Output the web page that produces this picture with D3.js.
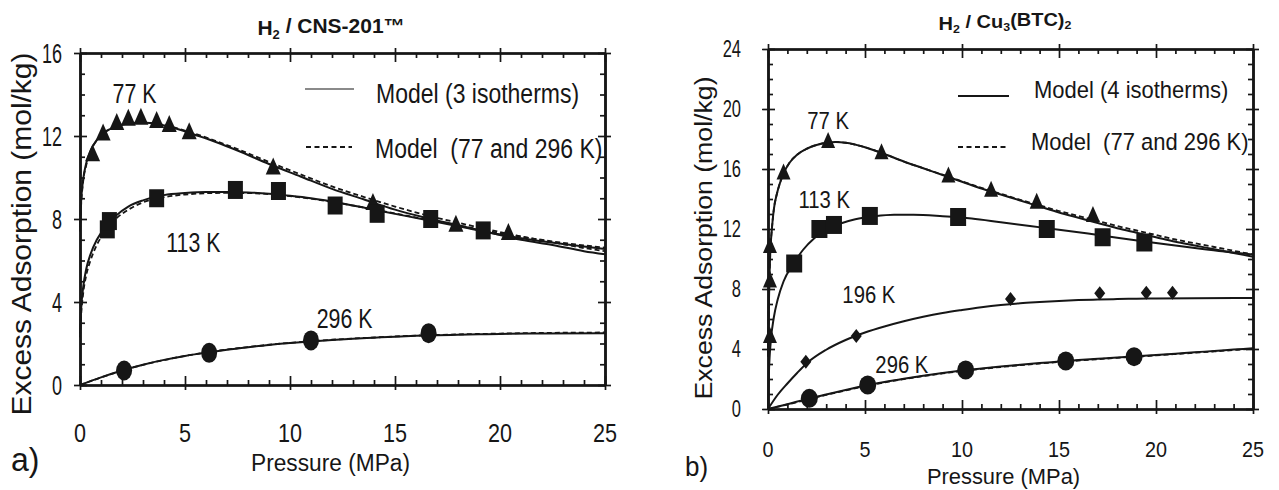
<!DOCTYPE html>
<html><head><meta charset="utf-8">
<script src="https://cdn.jsdelivr.net/npm/d3@7"></script>
<style>body{margin:0;background:#fff}svg{display:block}</style>
</head><body>
<svg id="c" width="1279" height="490"></svg>
<script>
// ---------- tick labels ----------
const xTicks = [0, 5, 10, 15, 20, 25];
const xMinor = [1,2,3,4,6,7,8,9,11,12,13,14,16,17,18,19,21,22,23,24];
const yTicksA = [0, 4, 8, 12, 16];
const yMinorA = [1,2,3,5,6,7,9,10,11,13,14,15];
const yTicksB = [0, 4, 8, 12, 16, 20, 24];
const yMinorB = [1,2,3,5,6,7,9,10,11,13,14,15,17,18,19,21,22,23];

// ---------- panel a) H2 / CNS-201 : measured points ----------
const a77P  = [0.6, 1.1, 1.75, 2.3, 2.9, 3.65, 4.25, 5.2, 9.2, 13.95, 17.9, 20.4];
const a77Q  = [11.1, 12.1, 12.6, 12.8, 12.85, 12.7, 12.5, 12.15, 10.45, 8.75, 7.7, 7.3];
const a113P = [1.3, 1.4, 3.65, 7.4, 9.45, 12.15, 14.15, 16.7, 19.2];
const a113Q = [7.5, 7.9, 9.0, 9.4, 9.35, 8.65, 8.25, 8.0, 7.45];
const a296P = [2.1, 6.15, 11.0, 16.6];
const a296Q = [0.7, 1.55, 2.15, 2.5];
// model curves panel a
const aFit77P  = [0,0.05,0.15,0.3,0.5,0.8,1.2,1.7,2.3,3,3.8,4.6,5.5,6.5,7.5,9,10.5,12,13.5,15,16.5,18,19.5,21,22.5,24,25];
const aFit77Q  = [7.6,8.8,9.9,10.7,11.3,11.8,12.2,12.45,12.6,12.65,12.55,12.35,12.05,11.7,11.3,10.65,10.05,9.45,8.95,8.45,8.05,7.7,7.35,7.0,6.75,6.45,6.3];
const aDash77Q = [7.4,8.6,9.8,10.6,11.25,11.8,12.2,12.45,12.6,12.65,12.57,12.38,12.1,11.75,11.37,10.75,10.15,9.57,9.07,8.6,8.18,7.82,7.48,7.16,6.88,6.6,6.45];
const aFit113P  = [0,0.05,0.15,0.3,0.5,0.8,1.2,1.7,2.3,3,4,5,6,7,8,9,10,11,12.5,14,15.5,17,18.5,20,21.5,23,25];
const aFit113Q  = [2.5,3.6,4.7,5.6,6.3,7.0,7.6,8.15,8.6,8.9,9.15,9.25,9.3,9.3,9.28,9.22,9.12,9.0,8.75,8.45,8.15,7.85,7.55,7.25,7.0,6.8,6.55];
const aDash113Q = [2.3,3.3,4.4,5.3,6.0,6.75,7.4,8.0,8.45,8.8,9.05,9.18,9.24,9.26,9.25,9.2,9.1,8.98,8.74,8.46,8.17,7.88,7.6,7.32,7.07,6.85,6.62];
const aFit296P  = [0,1,2,3,4,5,6,7,8,9,10,11,12,13,14,15,16,17,18,19,20,22,25];
const aFit296Q  = [0,0.37,0.7,0.98,1.21,1.4,1.56,1.7,1.82,1.93,2.02,2.1,2.17,2.23,2.28,2.33,2.37,2.4,2.42,2.44,2.46,2.48,2.5];
const aDash296Q = [0,0.36,0.69,0.97,1.2,1.4,1.57,1.71,1.83,1.94,2.03,2.11,2.18,2.24,2.29,2.34,2.38,2.41,2.44,2.46,2.48,2.51,2.53];

// ---------- panel b) H2 / Cu3(BTC)2 : measured points ----------
const b77P  = [0.1, 0.1, 0.1, 0.8, 3.1, 5.85, 9.3, 11.5, 13.85, 16.75];
const b77Q  = [4.8, 8.5, 10.8, 15.7, 17.8, 17.05, 15.5, 14.55, 13.75, 12.87];
const b113P = [1.35, 2.65, 3.4, 5.25, 9.8, 14.37, 17.25, 19.4];
const b113Q = [9.7, 12.0, 12.27, 12.87, 12.8, 12.0, 11.45, 11.1];
const b196P = [1.95, 4.55, 12.5, 17.1, 19.5, 20.85];
const b196Q = [3.15, 4.87, 7.33, 7.71, 7.75, 7.75];
const b296P = [2.13, 5.14, 10.19, 15.35, 18.87];
const b296Q = [0.71, 1.6, 2.6, 3.2, 3.49];
// model curves panel b
const bFit77P  = [0,0.03,0.07,0.12,0.2,0.3,0.45,0.6,0.8,1.1,1.5,2,2.5,3,3.5,4,5,6,7,8,9,10,11,12,13,14,15,16,17,18,19,20,21,22,23,24,25];
const bFit77Q  = [3.5,6,8.5,10.5,12.0,13.3,14.3,15.0,15.7,16.4,16.95,17.35,17.6,17.75,17.8,17.75,17.45,17.0,16.5,16.05,15.6,15.15,14.7,14.3,13.9,13.5,13.1,12.75,12.4,12.05,11.75,11.45,11.15,10.9,10.65,10.4,10.15];
const bDash77Q = [3.5,6,8.5,10.5,12.0,13.3,14.3,15.0,15.7,16.4,16.95,17.35,17.6,17.75,17.8,17.75,17.45,17.0,16.5,16.05,15.62,15.18,14.75,14.35,13.95,13.58,13.2,12.87,12.53,12.2,11.9,11.6,11.3,11.05,10.8,10.55,10.3];
const bFit113P = [0,0.05,0.15,0.3,0.5,0.8,1.3,1.8,2.4,3,3.7,4.5,5.5,6.5,7.5,9,10.5,12,13.5,15,16.5,18,19.5,21,22.5,25];
const bFit113Q = [0,2.5,4.6,6.1,7.3,8.5,9.65,10.6,11.4,11.95,12.35,12.65,12.85,12.95,12.95,12.85,12.7,12.45,12.2,11.95,11.7,11.42,11.15,10.9,10.65,10.3];
const bFit196P = [0,0.5,1,1.5,2,3,4,5,6,7,8,9,10,11,12,13,14,15,16,17,18,19,20,22,25];
const bFit196Q = [0,0.95,1.7,2.4,3.05,3.95,4.6,5.1,5.5,5.85,6.15,6.4,6.6,6.78,6.93,7.05,7.13,7.2,7.26,7.3,7.33,7.35,7.37,7.39,7.4];
const bFit296P  = [0,1,2,3,4,5,6,7,8,9,10,11,12,13,14,15,16,17,18,19,20,21,22,23,24,25];
const bFit296Q  = [0,0.32,0.66,0.97,1.27,1.55,1.8,2.02,2.22,2.4,2.56,2.7,2.83,2.95,3.06,3.16,3.26,3.35,3.44,3.52,3.6,3.69,3.78,3.87,3.96,4.05];
const bDash296Q = [0,0.3,0.63,0.94,1.24,1.52,1.77,1.99,2.19,2.37,2.53,2.67,2.8,2.92,3.03,3.13,3.23,3.32,3.41,3.49,3.57,3.66,3.75,3.84,3.93,4.02];

// ---------- texts ----------
const titleA = [{t:"H"},{t:"2",sub:true},{t:" / CNS-201™"}];
const titleB = [{t:"H"},{t:"2",sub:true},{t:" / Cu"},{t:"3",sub:true},{t:"(BTC)"},{t:"2",sub:true}];
const xLabel = "Pressure (MPa)";
const yLabel = "Excess Adsorption (mol/kg)";
const legA = ["Model (3 isotherms)", "Model  (77 and 296 K)"];
const legB = ["Model (4 isotherms)", "Model  (77 and 296 K)"];

// ---------- drawing ----------
const FONT = '"Liberation Sans", Arial, Helvetica, sans-serif';
const INK = "#161616";
const svg = d3.select("#c");

function txt(g, x, y, content, o) {
  const t = g.append("text")
    .attr("font-family", FONT).attr("font-size", o.fx)
    .attr("fill", INK).attr("text-anchor", o.anchor || "start")
    .attr("font-weight", o.weight || "normal")
    .attr("xml:space", "preserve").style("white-space", "pre");
  const k = o.fy / o.fx;
  if (o.rot) t.attr("transform", `translate(${x},${y}) scale(1,${o.len || 1}) rotate(-90)`);
  else t.attr("transform", `translate(${x},${y}) scale(1,${k})`);
  if (typeof content === "string") t.text(content);
  else {
    let shifted = false;
    content.forEach(s => {
      const sp = t.append("tspan").text(s.t);
      if (s.sub && !shifted) { sp.attr("dy", "0.3em").attr("font-size", o.fx * 0.62); shifted = true; }
      else if (!s.sub && shifted) { sp.attr("dy", "-0.3em"); shifted = false; }
      else if (s.sub) sp.attr("font-size", o.fx * 0.62);
    });
  }
  return t;
}

function triPath(w, h) { return `M0,${-h*0.62}L${w/2},${h*0.38}L${-w/2},${h*0.38}Z`; }
function sqPath(w, h) { return `M${-w/2},${-h/2}h${w}v${h}h${-w}Z`; }
function diaPath(w, h) { return `M0,${-h/2}L${w/2},0L0,${h/2}L${-w/2},0Z`; }

function panel(cfg) {
  const g = svg.append("g");
  const x = d3.scaleLinear().domain([0, 25]).range(cfg.xr);
  const y = d3.scaleLinear().domain(cfg.yd).range(cfg.yr);
  const [x0, x1] = cfg.xr, [y0, y1] = cfg.yr;

  const axStyle = sel => { sel.selectAll("path").attr("stroke", INK).attr("stroke-width", 2.2);
    sel.selectAll("line").attr("stroke", INK).attr("stroke-width", 1.7); sel.selectAll("text").remove(); };
  const add = (axis, tr) => g.append("g").attr("transform", tr).call(axis).call(axStyle);
  [[d3.axisBottom, `translate(0,${y0})`], [d3.axisTop, `translate(0,${y1})`]].forEach(([A, tr]) => {
    add(A(x).tickValues(xTicks).tickSize(-9).tickSizeOuter(0), tr);
    add(A(x).tickValues(xTicks).tickSize(5).tickSizeOuter(0), tr);
    add(A(x).tickValues(xMinor).tickSize(-5).tickSizeOuter(0), tr);
  });
  [[d3.axisLeft, `translate(${x0},0)`], [d3.axisRight, `translate(${x1},0)`]].forEach(([A, tr]) => {
    add(A(y).tickValues(cfg.yt).tickSize(-7).tickSizeOuter(0), tr);
    add(A(y).tickValues(cfg.yt).tickSize(6).tickSizeOuter(0), tr);
    add(A(y).tickValues(cfg.ym).tickSize(-5).tickSizeOuter(0), tr);
  });

  xTicks.forEach(v => txt(g, x(v), cfg.xtY, String(v), {fx: cfg.xtF[0], fy: cfg.xtF[1], anchor: "middle"}));
  cfg.yt.forEach(v => txt(g, cfg.ytX, y(v) + cfg.ytF[1] * 0.36, String(v), {fx: cfg.ytF[0], fy: cfg.ytF[1], anchor: "end"}));

  const line = (P, Q) => d3.line().x((d, i) => x(P[i])).y((d, i) => y(Q[i])).curve(d3.curveMonotoneX)(P);
  cfg.dash.forEach(([P, Q]) => g.append("path").attr("d", line(P, Q)).attr("fill", "none")
    .attr("stroke", INK).attr("stroke-width", 1.8).attr("stroke-dasharray", "5,3"));
  cfg.fits.forEach(([P, Q]) => g.append("path").attr("d", line(P, Q)).attr("fill", "none")
    .attr("stroke", INK).attr("stroke-width", 2));

  cfg.marks.forEach(m => {
    m.P.forEach((p, i) => {
      const cx = x(p), cy = y(m.Q[i]);
      if (m.type === "circle") g.append("ellipse").attr("cx", cx).attr("cy", cy).attr("rx", m.w / 2).attr("ry", m.h / 2).attr("fill", INK);
      else {
        const d = m.type === "tri" ? triPath(m.w, m.h) : m.type === "sq" ? sqPath(m.w, m.h) : diaPath(m.w, m.h);
        g.append("path").attr("d", d).attr("transform", `translate(${cx},${cy})`).attr("fill", INK);
      }
    });
  });

  cfg.tl.forEach(([s, px, py]) => txt(g, x(px), y(py), s, {fx: cfg.tlF[0], fy: cfg.tlF[1], anchor: "middle"}));

  cfg.leg.forEach((L, i) => {
    g.append("line").attr("x1", L.x1).attr("x2", L.x2).attr("y1", L.ly).attr("y2", L.ly)
      .attr("stroke", L.color).attr("stroke-width", 2.2).attr("stroke-dasharray", L.dash ? "5,3.5" : null);
    txt(g, L.tx, L.ty, cfg.legT[i], {fx: cfg.legF[0], fy: cfg.legF[1]});
  });

  txt(g, cfg.title[1], cfg.title[2], cfg.title[0], {fx: cfg.titleF[0], fy: cfg.titleF[1], anchor: "middle", weight: "bold"});
  txt(g, (x0 + x1) / 2 + cfg.xlDx, cfg.xlY, xLabel, {fx: cfg.xlF[0], fy: cfg.xlF[1], anchor: "middle"});
  txt(g, cfg.ylX, cfg.ylY, yLabel, {fx: cfg.ylF, fy: cfg.ylF, anchor: "middle", rot: true, len: cfg.ylLen});
  txt(g, cfg.pl[1], cfg.pl[2], cfg.pl[0], {fx: cfg.plF[0], fy: cfg.plF[1]});
}

panel({
  xr: [80, 605], yr: [385, 53], yd: [0, 16], yt: yTicksA, ym: yMinorA,
  xtY: 442, xtF: [21.6, 26], ytX: 62, ytF: [18, 27.5],
  dash: [[aFit77P, aDash77Q], [aFit113P, aDash113Q], [aFit296P, aDash296Q]],
  fits: [[aFit77P, aFit77Q], [aFit113P, aFit113Q], [aFit296P, aFit296Q]],
  marks: [
    {type: "tri", P: a77P, Q: a77Q, w: 15, h: 17},
    {type: "sq", P: a113P, Q: a113Q, w: 15, h: 18},
    {type: "circle", P: a296P, Q: a296Q, w: 16, h: 20}
  ],
  tl: [["77 K", 2.6, 13.6], ["113 K", 5.4, 6.4], ["296 K", 12.6, 2.75]], tlF: [21.4, 28],
  leg: [
    {x1: 305, x2: 354, ly: 89, color: "#8a8a8a", dash: false, tx: 376, ty: 103},
    {x1: 306, x2: 352, ly: 147, color: INK, dash: true, tx: 375, ty: 158}
  ], legT: legA, legF: [23, 27],
  title: [titleA, 331, 35], titleF: [21, 20],
  xlDx: -12, xlY: 471, xlF: [22.7, 24.7],
  ylX: 31, ylY: 234, ylF: 27, ylLen: 1.11,
  pl: ["a)", 11, 471], plF: [32, 33]
});

panel({
  xr: [768, 1253], yr: [409, 49], yd: [0, 24], yt: yTicksB, ym: yMinorB,
  xtY: 457, xtF: [19.8, 23], ytX: 741, ytF: [16.5, 23.5],
  dash: [[bFit77P, bDash77Q], [bFit296P, bDash296Q]],
  fits: [[bFit77P, bFit77Q], [bFit113P, bFit113Q], [bFit196P, bFit196Q], [bFit296P, bFit296Q]],
  marks: [
    {type: "tri", P: b77P, Q: b77Q, w: 14, h: 16},
    {type: "sq", P: b113P, Q: b113Q, w: 16, h: 18},
    {type: "dia", P: b196P, Q: b196Q, w: 11, h: 14},
    {type: "circle", P: b296P, Q: b296Q, w: 17, h: 19}
  ],
  tl: [["77 K", 3.1, 18.7], ["113 K", 2.9, 13.4], ["196 K", 5.2, 7.1], ["296 K", 6.9, 2.4]], tlF: [20.3, 23.7],
  leg: [
    {x1: 958, x2: 1009, ly: 96, color: INK, dash: false, tx: 1034, ty: 98},
    {x1: 958, x2: 1009, ly: 147, color: INK, dash: true, tx: 1031, ty: 150}
  ], legT: legB, legF: [22, 24.7],
  title: [titleB, 1005, 30], titleF: [20, 18.6],
  xlDx: -7, xlY: 484, xlF: [21.9, 22],
  ylX: 712, ylY: 238, ylF: 23, ylLen: 1.16,
  pl: ["b)", 685, 476], plF: [26, 27]
});
</script>
</body></html>
